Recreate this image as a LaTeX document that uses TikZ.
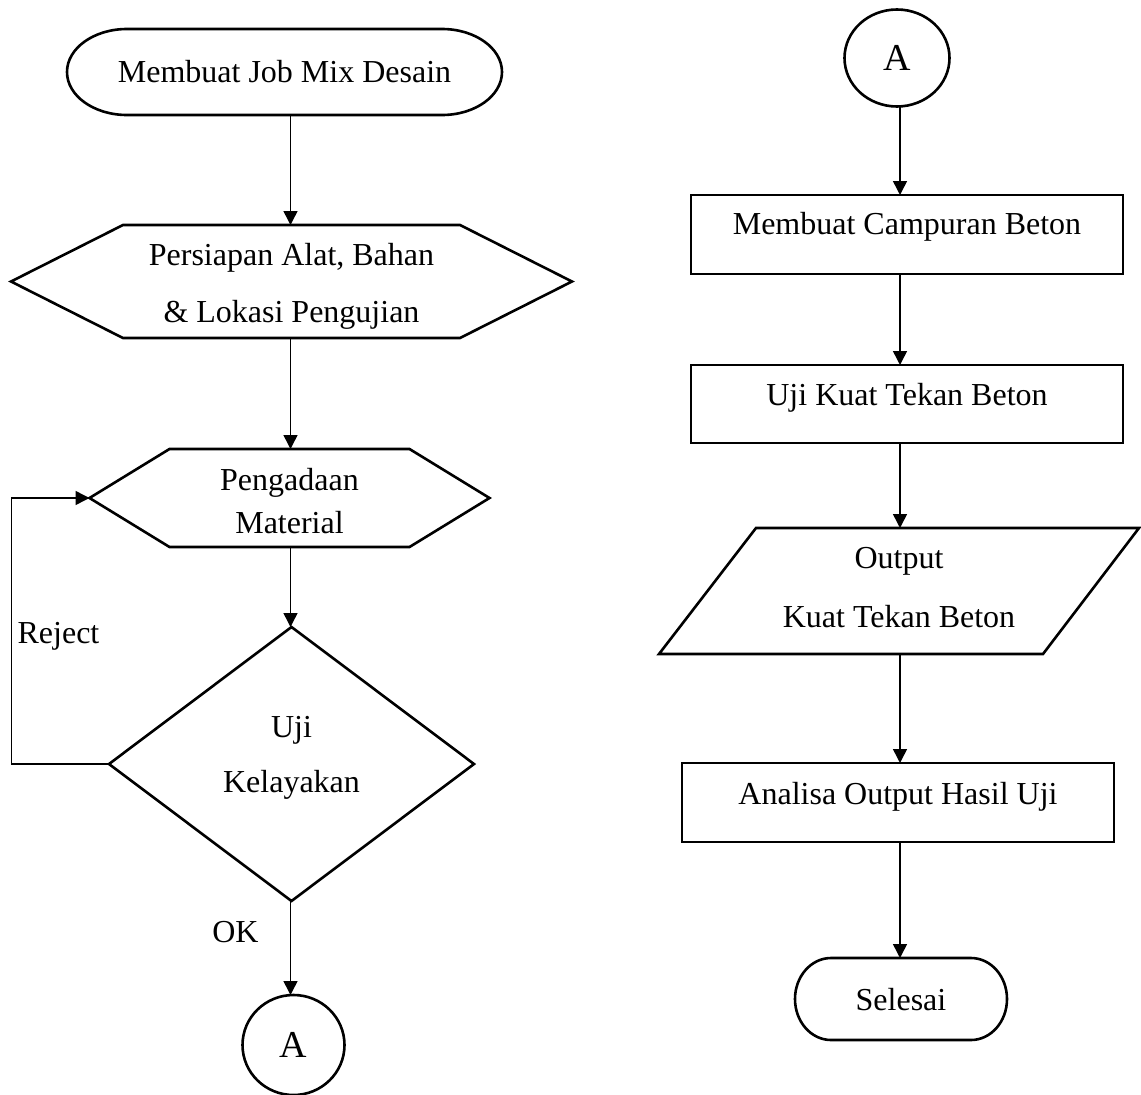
\documentclass[tikz,border=0pt]{standalone}
\usepackage{fontspec}
\setmainfont{Liberation Serif}
\usetikzlibrary{arrows.meta,shapes.geometric}
\begin{document}
\begin{tikzpicture}[x=1pt,y=-1pt,
  every node/.style={font=\fontsize{32}{38}\selectfont, inner sep=0pt, outer sep=0pt},
  fr/.style={draw=none},
  shp/.style={line width=2.6pt, line join=miter},
  procbox/.style={draw, rectangle, line width=2.6pt, minimum width=432pt},
  conn/.style={line width=1.5pt, -{Triangle[length=14pt,width=14pt]}},
  lbl/.style={anchor=base},
  conna/.style={draw, ellipse, shp, text height=24pt, text depth=0pt, font=\fontsize{38}{44}\selectfont},
]
\useasboundingbox (0,0) rectangle (1141,1095);

% ---------------- left column ----------------
\node[fr, minimum width=435pt, minimum height=86pt, text height=24pt, text depth=4pt] (t1) at (284.5,72) {Membuat Job Mix Desain};
\draw[shp] ([xshift=60pt]t1.north west) -- ([xshift=-60pt]t1.north east)
  arc[start angle=90,end angle=-90,x radius=60pt,y radius=43pt]
  -- ([xshift=60pt]t1.south west)
  arc[start angle=270,end angle=90,x radius=60pt,y radius=43pt] -- cycle;

\node[fr, minimum width=561pt, minimum height=113pt, text height=0pt, text depth=33pt] (h1) at (291.5,281.5)
  {\begin{tabular}[t]{@{}c@{}}Persiapan Alat, Bahan\\[19pt]\& Lokasi Pengujian\end{tabular}};
\draw[shp] (h1.west) -- ([xshift=112pt]h1.north west) -- ([xshift=-112pt]h1.north east)
  -- (h1.east) -- ([xshift=-112pt]h1.south east) -- ([xshift=112pt]h1.south west) -- cycle;

\node[fr, minimum width=400pt, minimum height=98pt, text height=0pt, text depth=16pt] (h2) at (289.5,498)
  {\begin{tabular}[t]{@{}c@{}}Pengadaan\\[5pt]Material\end{tabular}};
\draw[shp] (h2.west) -- ([xshift=80pt]h2.north west) -- ([xshift=-80pt]h2.north east)
  -- (h2.east) -- ([xshift=-80pt]h2.south east) -- ([xshift=80pt]h2.south west) -- cycle;

\node[draw, diamond, shp, minimum width=365pt, minimum height=274pt, text height=0pt, text depth=54pt] (d) at (291.5,764)
  {\begin{tabular}[t]{@{}c@{}}Uji\\[17pt]Kelayakan\end{tabular}};

\node[conna, minimum width=102pt, minimum height=100pt] (A1) at (293.5,1045) {A};

\coordinate (lc) at (290.5,0);
\coordinate (rl) at (11.5,764);
\draw[conn] (t1.south -| lc) -- (h1.north -| lc);
\draw[conn] (h1.south -| lc) -- (h2.north -| lc);
\draw[conn] (h2.south -| lc) -- (d.north -| lc);
\draw[conn] (d.south -| lc) -- (A1.north -| lc);
\draw[conn] (d.west) -- (rl) |- (h2.west);

\node[lbl] (rej) at (58.5,643) {Reject};
\node[lbl] (ok) at (235.5,942) {OK};

% ---------------- right column ----------------
\node[conna, minimum width=105pt, minimum height=97pt] (A2) at (897,58) {A};

\node[procbox, minimum height=79pt, text height=12pt, text depth=12pt] (r1) at (907,234.5) {Membuat Campuran Beton};
\node[procbox, minimum height=78pt, text height=13pt, text depth=11pt] (r2) at (907,404) {Uji Kuat Tekan Beton};

\node[fr, minimum width=480pt, minimum height=126pt, text height=0pt, text depth=46pt] (p) at (899,591)
  {\begin{tabular}[t]{@{}c@{}}Output\\[21pt]Kuat Tekan Beton\end{tabular}};
\draw[shp] (p.south west) -- ([xshift=97pt]p.north west) -- (p.north east)
  -- ([xshift=-96pt]p.south east) -- cycle;

\node[procbox, minimum height=79pt, text height=13pt, text depth=10pt] (r3) at (898,802.5) {Analisa Output Hasil Uji};

\node[fr, minimum width=212pt, minimum height=82pt, text height=24pt, text depth=2pt] (t2) at (901,999) {Selesai};
\draw[shp] ([xshift=36pt]t2.north west) -- ([xshift=-36pt]t2.north east)
  arc[start angle=90,end angle=-90,x radius=36pt,y radius=41pt]
  -- ([xshift=36pt]t2.south west)
  arc[start angle=270,end angle=90,x radius=36pt,y radius=41pt] -- cycle;

\coordinate (rc) at (900,0);
\draw[conn] (A2.south -| rc) -- (r1.north -| rc);
\draw[conn] (r1.south -| rc) -- (r2.north -| rc);
\draw[conn] (r2.south -| rc) -- (p.north -| rc);
\draw[conn] (p.south -| rc) -- (r3.north -| rc);
\draw[conn] (r3.south -| rc) -- (t2.north -| rc);
\end{tikzpicture}
\end{document}
